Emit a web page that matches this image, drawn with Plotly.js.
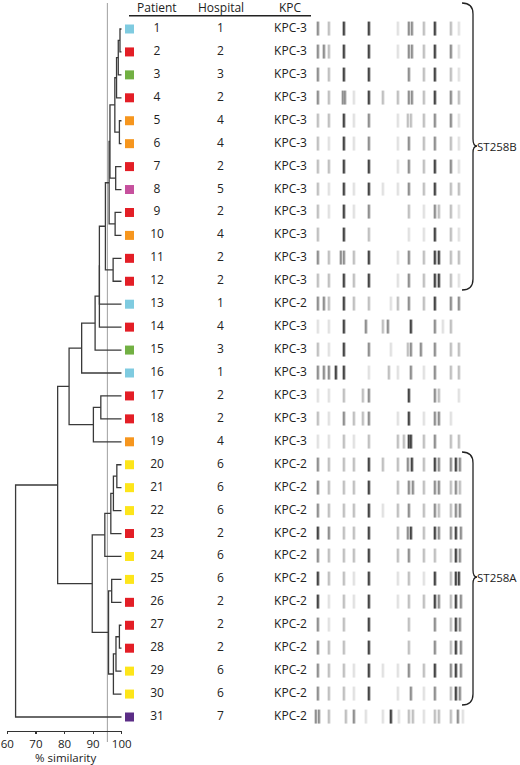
<!DOCTYPE html>
<html>
<head>
<meta charset="utf-8">
<script src="https://cdn.plot.ly/plotly-3.0.1.min.js"></script>
<style>html,body{margin:0;padding:0;background:#fff;}#chart{width:520px;height:765px;}</style>
</head>
<body>
<div id="chart"></div>
<script>
// ---------------- DATA ----------------
const patients = [1,2,3,4,5,6,7,8,9,10,11,12,13,14,15,16,17,18,19,20,21,22,23,24,25,26,27,28,29,30,31];
const hospitals = [1,2,3,2,4,4,2,5,2,4,2,2,1,4,3,1,2,2,4,6,6,6,2,6,6,2,2,2,6,6,7];
const kpc = ["KPC-3","KPC-3","KPC-3","KPC-3","KPC-3","KPC-3","KPC-3","KPC-3","KPC-3","KPC-3","KPC-3","KPC-3",
             "KPC-2","KPC-3","KPC-3","KPC-3","KPC-3","KPC-3","KPC-3",
             "KPC-2","KPC-2","KPC-2","KPC-2","KPC-2","KPC-2","KPC-2","KPC-2","KPC-2","KPC-2","KPC-2","KPC-2"];
const squareColors = ["#7fcbe0","#e31e26","#72b043","#e31e26","#f6961e","#f6961e","#e31e26","#c6509d","#e31e26","#f6961e",
                      "#e31e26","#e31e26","#7fcbe0","#e31e26","#72b043","#7fcbe0","#e31e26","#e31e26","#f6961e",
                      "#fde51a","#fde51a","#fde51a","#e31e26","#fde51a","#fde51a","#e31e26","#e31e26","#e31e26",
                      "#fde51a","#fde51a","#5b2d86"];
const headers = ["Patient","Hospital","KPC"];
const simTicks = [60,70,80,90,100];
const cutoff = 95;

// dendrogram merges: [childA, childB, % similarity]; positive = patient, negative = earlier merge (1-based)
const merges = [
  [1,2,99.4],[-1,3,98.8],[-2,4,98.2],[5,6,99.2],[-3,-4,97.6],[7,8,97.9],[-5,-6,95.9],[9,10,97.7],
  [-7,-8,95.6],[11,12,97.0],[-9,-10,94.3],[-11,13,92.2],[-12,14,92.2],[-13,15,90.7],[-14,16,86.0],
  [17,18,92.7],[-16,19,90.1],[-15,-17,81.6],
  [20,21,98.3],[-19,22,97.1],[-20,23,96.2],[-21,24,94.1],[25,26,96.5],[27,28,99.2],[-24,29,98.0],
  [-25,30,97.1],[-23,-26,95.4],[-22,-27,89.7],[-18,-28,77.6],[-29,31,62.9]
];

// PFGE bands per lane: [position along gel, darkness 0-1]
const D=0.8, M=0.48, L=0.27, V=0.13;
const lanes = [
 [[1,M],[12,L],[27,D],[52,D],[81,V],[92,M],[95,M],[107,L],[118,D],[134,L],[142,V]],
 [[1,M],[7,M],[12,L],[27,D],[52,D],[81,V],[92,M],[95,M],[107,L],[118,D],[134,M],[142,V]],
 [[1,M],[12,L],[27,D],[52,D],[92,M],[107,L],[118,D],[134,L],[142,V]],
 [[1,M],[12,L],[26,M],[28,M],[37,V],[52,D],[66,L],[81,L],[92,M],[95,M],[107,L],[118,D],[134,M],[142,L]],
 [[1,L],[12,L],[27,D],[37,V],[52,M],[81,V],[91,L],[94,L],[107,L],[118,M],[134,M],[142,V]],
 [[1,L],[12,V],[27,D],[37,V],[52,M],[81,V],[92,M],[107,L],[118,M],[134,L],[142,V]],
 [[1,L],[12,L],[27,D],[52,D],[81,V],[92,M],[107,L],[118,D],[134,M],[142,V]],
 [[1,L],[12,V],[27,D],[37,V],[52,D],[66,V],[81,V],[92,M],[107,L],[118,D],[134,L],[142,L]],
 [[1,L],[12,V],[27,D],[37,V],[52,M],[92,L],[107,V],[118,M],[122,L],[134,L],[142,V]],
 [[1,L],[27,D],[52,L],[92,V],[107,V],[118,D],[134,L],[142,V]],
 [[1,M],[12,L],[24,M],[27,M],[37,L],[52,D],[81,V],[92,M],[107,L],[118,D],[122,D],[134,L],[142,L]],
 [[1,L],[12,L],[27,D],[37,L],[52,D],[81,V],[92,M],[107,L],[118,D],[122,D],[134,L],[142,V]],
 [[1,M],[7,M],[12,L],[27,D],[37,L],[52,L],[74,V],[81,L],[92,M],[107,L],[118,D],[134,M],[142,M]],
 [[1,V],[12,V],[27,D],[49,M],[66,L],[71,M],[94,D],[118,M],[126,V],[134,L]],
 [[1,L],[12,V],[27,D],[52,M],[74,V],[91,L],[94,M],[104,M],[118,M],[134,L],[142,L]],
 [[1,M],[7,M],[12,M],[19,D],[27,D],[52,V],[72,L],[81,V],[94,M],[107,V],[118,M],[134,L],[142,L]],
 [[1,V],[12,V],[27,L],[46,L],[52,M],[92,D],[118,M],[122,L],[142,V]],
 [[1,L],[12,V],[27,M],[37,L],[46,L],[52,M],[81,V],[92,D],[107,V],[118,M],[122,M],[134,V]],
 [[1,V],[12,V],[27,L],[37,V],[52,L],[81,L],[87,L],[92,D],[94,D],[107,L],[118,M],[134,L],[142,L]],
 [[1,M],[12,L],[27,L],[37,L],[52,D],[66,L],[81,L],[91,M],[95,D],[107,L],[118,D],[122,M],[134,M],[139,D],[143,M]],
 [[1,M],[12,L],[27,L],[37,L],[52,D],[81,L],[92,M],[96,M],[107,L],[118,M],[122,M],[134,L],[139,M],[143,L]],
 [[1,M],[12,L],[27,L],[37,L],[52,D],[66,V],[81,L],[92,M],[107,L],[118,M],[122,L],[134,L],[139,M],[143,M]],
 [[1,D],[12,M],[27,L],[37,L],[52,D],[81,L],[91,M],[94,D],[107,L],[118,D],[122,M],[134,M],[139,D],[144,M]],
 [[1,M],[12,L],[27,L],[37,L],[52,D],[81,L],[92,M],[107,L],[118,L],[134,L],[139,D],[143,M]],
 [[1,D],[12,L],[27,L],[37,V],[52,D],[81,V],[92,L],[107,V],[118,D],[134,L],[139,D],[142,D]],
 [[1,D],[12,V],[27,L],[37,V],[52,D],[81,V],[92,L],[107,L],[118,D],[122,M],[134,L],[139,D],[144,M]],
 [[1,M],[12,V],[27,L],[52,D],[92,L],[118,M],[134,L],[139,D],[143,M]],
 [[1,M],[12,L],[27,L],[52,D],[92,L],[118,M],[134,L],[139,D],[144,M]],
 [[1,M],[12,L],[27,L],[37,V],[52,D],[66,V],[81,V],[92,M],[107,L],[118,D],[134,M],[139,D],[144,M]],
 [[1,M],[12,L],[27,L],[37,V],[52,D],[81,V],[94,M],[107,V],[118,M],[134,L],[139,D],[143,M]],
 [[-1,M],[2,M],[12,L],[29,L],[37,M],[49,V],[66,V],[74,D],[82,V],[92,L],[96,L],[107,V],[118,L],[122,L],[134,L],[141,M],[146,V]]
];
const clusterLabels = ["ST258B","ST258A"];
const axisTitle = "% similarity";

// ---------------- BUILD ----------------
const W = 520, H = 765;
const FONT = "Open Sans, Noto Sans, sans-serif";
const INK = "#222";
const AXIS_Y = 731;

// dendrogram segments
const nodes = [];
const ref = c => c > 0 ? {x:100, y:patients.indexOf(c)+1} : nodes[-c-1];
const dx = [], dy = [];
merges.forEach(([a,b,s]) => {
  const A = ref(a), B = ref(b);
  dx.push(A.x, s, s, B.x, null);
  dy.push(A.y, A.y, B.y, B.y, null);
  nodes.push({x:s, y:(A.y+B.y)/2});
});

// gel heatmap
const colMin = -2, colMax = 149;
const gelX = [];
for (let c = colMin; c <= colMax; c++) gelX.push(c);
const gelZ = lanes.map(bands => {
  const row = new Array(gelX.length).fill(0);
  const put = (c,v) => { const i = c - colMin; if (i>=0 && i<row.length) row[i] = Math.max(row[i], v); };
  bands.forEach(([p,v]) => { put(p,v); put(p+1,v*0.85); put(p-1,v*0.35); put(p+2,v*0.3); });
  return row;
});
const rowsY = patients.map((_,i)=>i+1);

const txt = {family:FONT, size:12, color:INK};
const traces = [
  {type:'scatter', mode:'lines', x:dx, y:dy, xaxis:'x', yaxis:'y',
   line:{color:'#3a3a3a', width:1.3}, hoverinfo:'skip', connectgaps:false, cliponaxis:false},
  {type:'heatmap', x:gelX, y:rowsY, z:gelZ, xaxis:'x3', yaxis:'y',
   colorscale:[[0,'#ffffff'],[1,'#151515']], zmin:0, zmax:1, showscale:false, ygap:9, hoverinfo:'skip'},
  {type:'scatter', mode:'markers', x:rowsY.map(()=>129.5), y:rowsY, xaxis:'x2', yaxis:'y',
   marker:{symbol:'square', size:9, color:squareColors, line:{width:0}}, hoverinfo:'skip', cliponaxis:false},
  {type:'scatter', mode:'text', x:rowsY.map(()=>157), y:rowsY, text:patients.map(String), xaxis:'x2', yaxis:'y',
   textfont:txt, hoverinfo:'skip', cliponaxis:false},
  {type:'scatter', mode:'text', x:rowsY.map(()=>220.5), y:rowsY, text:hospitals.map(String), xaxis:'x2', yaxis:'y',
   textfont:txt, hoverinfo:'skip', cliponaxis:false},
  {type:'scatter', mode:'text', x:rowsY.map(()=>290.5), y:rowsY, text:kpc, xaxis:'x2', yaxis:'y',
   textfont:txt, hoverinfo:'skip', cliponaxis:false}
];

// row axis: row 1 at 29px from top, row 31 at 717px
const pitch = (717-29)/30;
const topVal = 1 - 29/pitch;
const botVal = topVal + H/pitch;

const headerX = [157,220.5,290.5];
const annotations = headers.map((h,i) => ({xref:'x2', yref:'y2', x:headerX[i], y:7.5, xanchor:'center', yanchor:'middle',
  text:h, showarrow:false, font:txt, borderpad:0}));
annotations.push(
  {xref:'x2', yref:'y2', x:476, y:146, xanchor:'left', yanchor:'middle', text:clusterLabels[0], showarrow:false,
   font:{family:FONT, size:11.5, color:INK}, borderpad:0},
  {xref:'x2', yref:'y2', x:476, y:577, xanchor:'left', yanchor:'middle', text:clusterLabels[1], showarrow:false,
   font:{family:FONT, size:11.5, color:INK}, borderpad:0},
  {xref:'x2', yref:'y2', x:65, y:757.5, xanchor:'center', yanchor:'middle', text:axisTitle, showarrow:false,
   font:{family:FONT, size:11.5, color:INK}, borderpad:0}
);

const layout = {
  width:W, height:H, margin:{l:0,r:0,t:0,b:0},
  paper_bgcolor:'#fff', plot_bgcolor:'rgba(0,0,0,0)', showlegend:false,
  font:{family:FONT, color:INK},
  xaxis:{domain:[7.3/W,121.7/W], range:[60,100], anchor:'free', position:1-AXIS_Y/H,
         showline:true, linecolor:'#333', linewidth:1.2, ticks:'outside', ticklen:2, tickwidth:1.2, tickcolor:'#333',
         tickvals:simTicks, ticktext:simTicks.map(String), tickfont:{family:FONT, size:11.5, color:INK},
         ticklabeloverflow:'allow', showgrid:false, zeroline:false, fixedrange:true},
  yaxis:{domain:[0,1], range:[botVal, topVal], visible:false, fixedrange:true},
  xaxis2:{domain:[0,1], range:[0,W], anchor:'y', visible:false, fixedrange:true},
  xaxis3:{domain:[314/W,466/W], range:[colMin-0.5, colMax+0.5], anchor:'y', visible:false, fixedrange:true},
  yaxis2:{domain:[0,1], range:[H,0], anchor:'x2', overlaying:'y', visible:false, fixedrange:true},
  shapes:[
    {type:'line', xref:'x', yref:'y2', x0:cutoff, x1:cutoff, y0:3, y1:742, line:{color:'#a8a8a8', width:1.1}, layer:'below'},
    {type:'line', xref:'x2', yref:'y2', x0:129, x1:311, y0:15.7, y1:15.7, line:{color:'#222', width:1.4}},
    {type:'path', xref:'x2', yref:'y2', line:{color:'#222', width:1.3},
     path:'M 462 3 Q 473 3 473 14 L 473 139 Q 473 146 477 146 Q 473 146 473 153 L 473 279 Q 473 290 462 290'},
    {type:'path', xref:'x2', yref:'y2', line:{color:'#222', width:1.3},
     path:'M 462 452 Q 473 452 473 463 L 473 570 Q 473 577 477 577 Q 473 577 473 584 L 473 694 Q 473 705 462 705'}
  ],
  annotations:annotations
};

Plotly.newPlot('chart', traces, layout, {displayModeBar:false, staticPlot:true});
</script>
</body>
</html>
